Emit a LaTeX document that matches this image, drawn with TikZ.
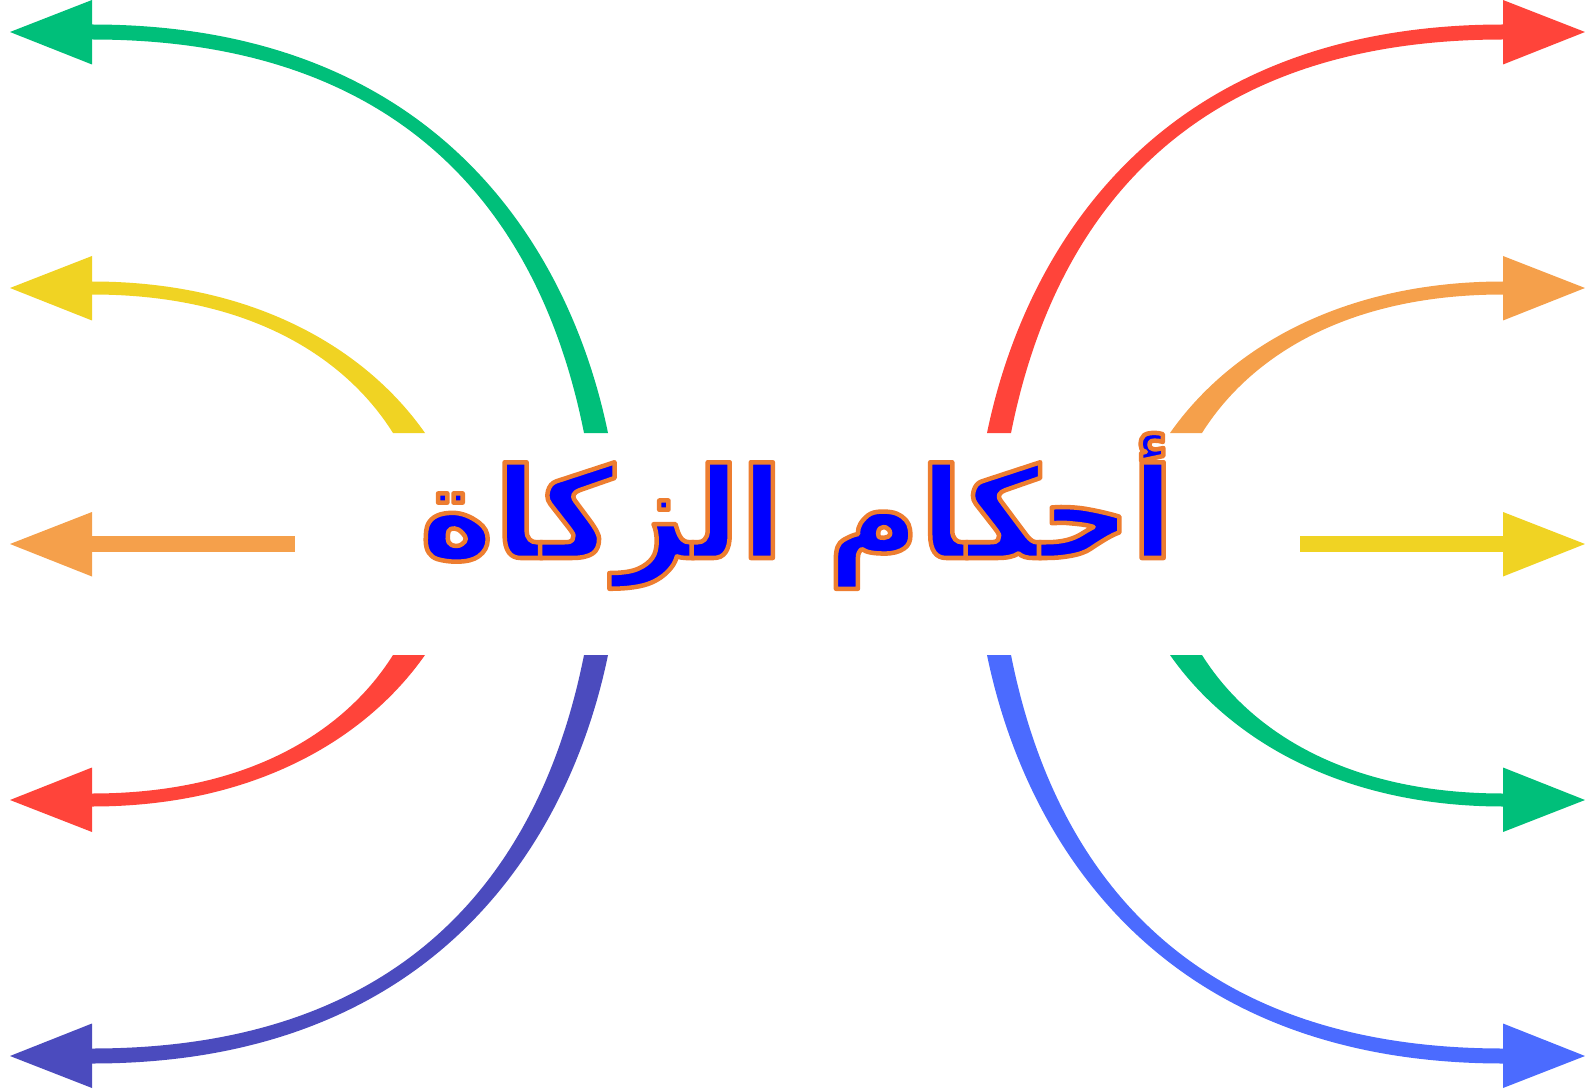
\documentclass[tikz,border=0pt]{standalone}
\usepackage{fontspec}
\TeXXeTstate=1
\newfontfamily\arabicfont[Script=Arabic]{DejaVu Sans}
\definecolor{cgreen}{RGB}{0,191,122}
\definecolor{cyellow}{RGB}{240,211,35}
\definecolor{corange}{RGB}{245,160,75}
\definecolor{cred}{RGB}{255,68,58}
\definecolor{cindigo}{RGB}{75,75,190}
\definecolor{cblue}{RGB}{75,107,255}
\definecolor{tblue}{RGB}{0,0,255}
\newcommand\strokedtxt[1]{\special{pdf:literal direct 2 Tr 4.5 w 1 J 1 j 0.93 0.49 0.19 RG}#1\special{pdf:literal direct 0 Tr}}
\tikzset{
  bigarc/.pic={
    \fill[#1] (608,433) .. controls (571,253) and (440,24.5) .. (92,24.5)
      -- (92,39.5) .. controls (440,39.5) and (549,257) .. (584,433) -- cycle;
    \fill[#1] (92,0) -- (10,32) -- (92,64.5) -- cycle;},
  smallarc/.pic={
    \fill[#1] (425,433) .. controls (364,346) and (250,281.5) .. (92,281.5)
      -- (92,294.5) .. controls (250,294.5) and (346,358) .. (393,433) -- cycle;
    \fill[#1] (92,256) -- (10,288) -- (92,320.5) -- cycle;},
  flatarr/.pic={
    \fill[#1] (295,536) rectangle (92,552);
    \fill[#1] (92,512) -- (10,544) -- (92,576.5) -- cycle;}
}
\begin{document}
\begin{tikzpicture}[x=1pt,y=-1pt]
\useasboundingbox (0,0) rectangle (1585,1091);
% left side
\pic at (0,0) {bigarc=cgreen};
\pic at (0,0) {smallarc=cyellow};
\pic at (0,0) {flatarr=corange};
\pic[yscale=-1] at (0,1088) {smallarc=cred};
\pic[yscale=-1] at (0,1088) {bigarc=cindigo};
% right side
\pic[xscale=-1] at (1595,0) {bigarc=cred};
\pic[xscale=-1] at (1595,0) {smallarc=corange};
\pic[xscale=-1] at (1595,0) {flatarr=cyellow};
\pic[xscale=-1,yscale=-1] at (1595,1088) {smallarc=cgreen};
\pic[xscale=-1,yscale=-1] at (1595,1088) {bigarc=cblue};
\node[anchor=base,inner sep=0pt,text=tblue,font=\arabicfont\bfseries\fontsize{126}{136}\selectfont] (title) at (797,558)
  {\strokedtxt{\beginR أحكام الزكاة\endR}};
\end{tikzpicture}
\end{document}
